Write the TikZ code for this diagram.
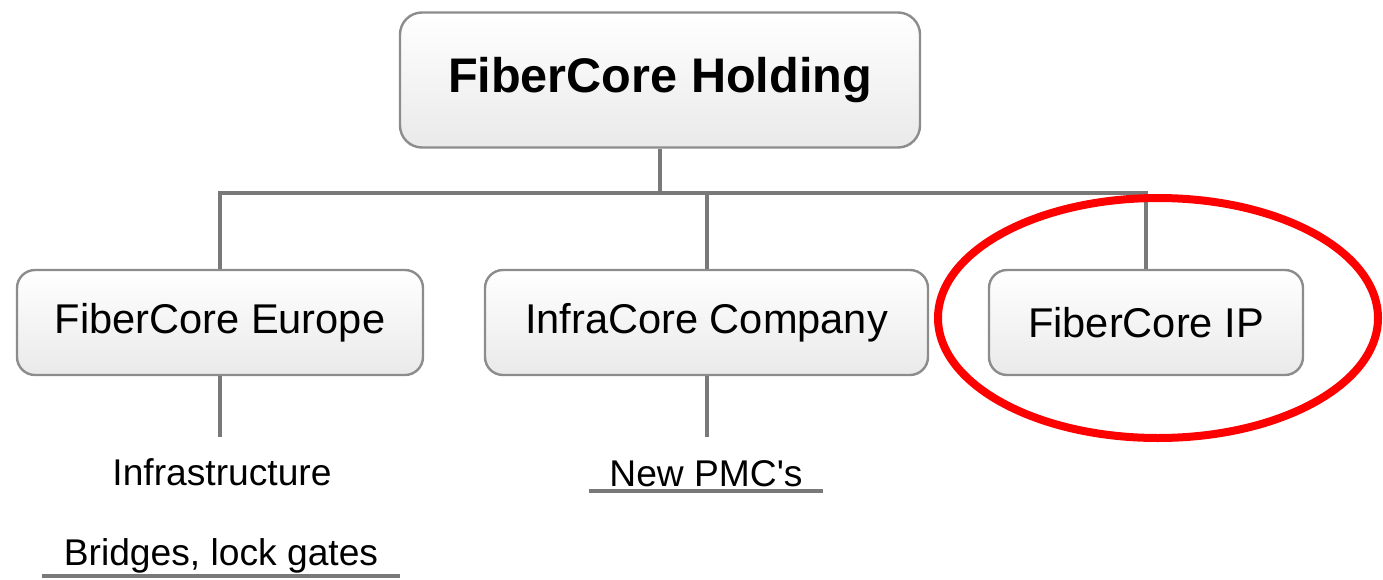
\documentclass[tikz,border=0pt]{standalone}
\usepackage{fontspec}
\setmainfont{Liberation Sans}
\usetikzlibrary{shapes.geometric}

\begin{document}
\begin{tikzpicture}[x=0.5pt,y=-0.5pt,
  conn/.style={draw=gray!95!black,line width=2pt},
  unit/.style={draw=gray!90,line width=1.2pt,rounded corners=9pt,
    top color=white,bottom color=gray!17,minimum height=52.5pt,
    font=\fontsize{20.8}{25}\selectfont},
  note/.style={font=\fontsize{18.6}{22}\selectfont,inner xsep=0pt}]
\useasboundingbox (0,0) rectangle (1383,579);
\node[unit,minimum width=260pt,minimum height=67.5pt,rounded corners=11pt,
  font=\fontsize{24.3}{29}\selectfont\bfseries] (hold) at (660,80) {FiberCore Holding};
\node[unit,minimum width=203pt] (europe) at (220,322.5) {FiberCore Europe};
\node[unit,minimum width=221.5pt] (infra) at (706.5,322.5) {InfraCore Company};
\node[unit,minimum width=157pt] (ip) at (1146,322.5) {FiberCore IP};
\coordinate (bar) at (660,193);
\coordinate (eend) at (220,437);
\coordinate (iend) at (706.5,437);
\node[note] (infr) at (222,472) {Infrastructure};
\node[note,anchor=south,minimum width=179pt,inner ysep=1pt] (bridges) at (221,576) {Bridges, lock gates};
\node[note,anchor=south,minimum width=117pt,inner ysep=2pt] (pmc) at (706,491) {New PMC\textquotesingle s};

\draw[conn](hold)--(bar)(europe.north)|-(bar)-|(ip.north)(infra.north)--(infra.north|-bar);
\draw[conn](europe)--(eend)(infra)--(iend);
\draw[conn](bridges.south west)--(bridges.south east)(pmc.south west)--(pmc.south east);
\draw[red,line width=4pt](1158,318) ellipse [x radius=110pt,y radius=60pt];
\end{tikzpicture}
\end{document}
